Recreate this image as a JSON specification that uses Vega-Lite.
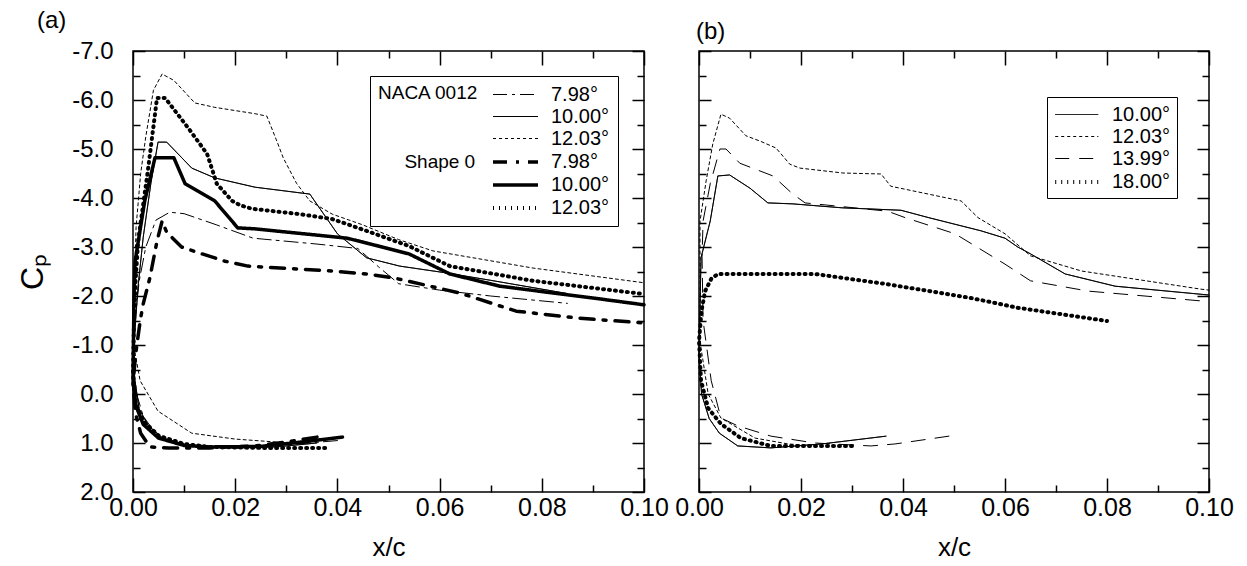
{
"$schema": "https://vega.github.io/schema/vega-lite/v6.json",
"background": "white",
"padding": {"left": 15, "top": 8, "right": 5, "bottom": 5},
"config": {
  "font": "Liberation Sans",
  "view": {"stroke": "black", "strokeWidth": 1.5},
  "axis": {"grid": false, "domain": false, "labelFont": "Liberation Sans", "labelFontSize": 24, "labelColor": "black", "titleColor": "black", "titleFont": "Liberation Sans", "titleFontWeight": "normal", "tickColor": "black", "tickWidth": 1.5, "tickSize": 0, "labelFlush": false, "labelOverlap": false},
  "legend": {"labelFont": "Liberation Sans", "titleFont": "Liberation Sans", "labelColor": "black", "titleColor": "black"},
  "title": {"font": "Liberation Sans", "fontWeight": "normal", "color": "black"}
},
"datasets": {
"a": [
{"s":"N|7.98°","i":0,"x":0.040,"y":0.95},{"s":"N|7.98°","i":1,"x":0.030,"y":1.04},{"s":"N|7.98°","i":2,"x":0.020,"y":1.08},{"s":"N|7.98°","i":3,"x":0.012,"y":1.06},{"s":"N|7.98°","i":4,"x":0.007,"y":0.95},{"s":"N|7.98°","i":5,"x":0.004,"y":0.75},{"s":"N|7.98°","i":6,"x":0.002,"y":0.45},{"s":"N|7.98°","i":7,"x":0.0007,"y":0.0},{"s":"N|7.98°","i":8,"x":0.0001,"y":-0.6},{"s":"N|7.98°","i":9,"x":0.0004,"y":-1.5},{"s":"N|7.98°","i":10,"x":0.0012,"y":-2.3},{"s":"N|7.98°","i":11,"x":0.0025,"y":-3.0},{"s":"N|7.98°","i":12,"x":0.0045,"y":-3.55},{"s":"N|7.98°","i":13,"x":0.0072,"y":-3.71},{"s":"N|7.98°","i":14,"x":0.010,"y":-3.68},{"s":"N|7.98°","i":15,"x":0.0164,"y":-3.45},{"s":"N|7.98°","i":16,"x":0.0235,"y":-3.18},{"s":"N|7.98°","i":17,"x":0.036,"y":-3.06},{"s":"N|7.98°","i":18,"x":0.044,"y":-2.97},{"s":"N|7.98°","i":19,"x":0.048,"y":-2.6},{"s":"N|7.98°","i":20,"x":0.052,"y":-2.25},{"s":"N|7.98°","i":21,"x":0.060,"y":-2.12},{"s":"N|7.98°","i":22,"x":0.070,"y":-2.0},{"s":"N|7.98°","i":23,"x":0.085,"y":-1.85},
{"s":"N|10.00°","i":0,"x":0.036,"y":1.0},{"s":"N|10.00°","i":1,"x":0.028,"y":1.08},{"s":"N|10.00°","i":2,"x":0.018,"y":1.1},{"s":"N|10.00°","i":3,"x":0.010,"y":1.06},{"s":"N|10.00°","i":4,"x":0.006,"y":0.92},{"s":"N|10.00°","i":5,"x":0.003,"y":0.65},{"s":"N|10.00°","i":6,"x":0.0012,"y":0.3},{"s":"N|10.00°","i":7,"x":0.0002,"y":-0.4},{"s":"N|10.00°","i":8,"x":0.0003,"y":-1.2},{"s":"N|10.00°","i":9,"x":0.0010,"y":-2.2},{"s":"N|10.00°","i":10,"x":0.0020,"y":-3.2},{"s":"N|10.00°","i":11,"x":0.0035,"y":-4.3},{"s":"N|10.00°","i":12,"x":0.0049,"y":-5.14},{"s":"N|10.00°","i":13,"x":0.0066,"y":-5.14},{"s":"N|10.00°","i":14,"x":0.0115,"y":-4.61},{"s":"N|10.00°","i":15,"x":0.016,"y":-4.41},{"s":"N|10.00°","i":16,"x":0.0239,"y":-4.22},{"s":"N|10.00°","i":17,"x":0.0346,"y":-4.08},{"s":"N|10.00°","i":18,"x":0.040,"y":-3.27},{"s":"N|10.00°","i":19,"x":0.0457,"y":-2.78},{"s":"N|10.00°","i":20,"x":0.0522,"y":-2.61},{"s":"N|10.00°","i":21,"x":0.0614,"y":-2.47},{"s":"N|10.00°","i":22,"x":0.070,"y":-2.32},{"s":"N|10.00°","i":23,"x":0.085,"y":-2.05},
{"s":"N|12.03°","i":0,"x":0.028,"y":0.98},{"s":"N|12.03°","i":1,"x":0.020,"y":0.92},{"s":"N|12.03°","i":2,"x":0.0115,"y":0.80},{"s":"N|12.03°","i":3,"x":0.0049,"y":0.35},{"s":"N|12.03°","i":4,"x":0.0014,"y":-0.27},{"s":"N|12.03°","i":5,"x":0.0001,"y":-1.0},{"s":"N|12.03°","i":6,"x":0.0002,"y":-2.0},{"s":"N|12.03°","i":7,"x":0.0006,"y":-3.4},{"s":"N|12.03°","i":8,"x":0.0015,"y":-4.5},{"s":"N|12.03°","i":9,"x":0.0025,"y":-5.25},{"s":"N|12.03°","i":10,"x":0.004,"y":-6.2},{"s":"N|12.03°","i":11,"x":0.0057,"y":-6.53},{"s":"N|12.03°","i":12,"x":0.008,"y":-6.4},{"s":"N|12.03°","i":13,"x":0.0121,"y":-5.94},{"s":"N|12.03°","i":14,"x":0.016,"y":-5.85},{"s":"N|12.03°","i":15,"x":0.0239,"y":-5.72},{"s":"N|12.03°","i":16,"x":0.0262,"y":-5.67},{"s":"N|12.03°","i":17,"x":0.028,"y":-5.2},{"s":"N|12.03°","i":18,"x":0.0294,"y":-4.82},{"s":"N|12.03°","i":19,"x":0.032,"y":-4.3},{"s":"N|12.03°","i":20,"x":0.0346,"y":-3.94},{"s":"N|12.03°","i":21,"x":0.039,"y":-3.67},{"s":"N|12.03°","i":22,"x":0.045,"y":-3.45},{"s":"N|12.03°","i":23,"x":0.052,"y":-3.15},{"s":"N|12.03°","i":24,"x":0.0587,"y":-2.92},{"s":"N|12.03°","i":25,"x":0.0783,"y":-2.57},{"s":"N|12.03°","i":26,"x":0.100,"y":-2.27},
{"s":"S|7.98°","i":0,"x":0.036,"y":0.88},{"s":"S|7.98°","i":1,"x":0.030,"y":0.98},{"s":"S|7.98°","i":2,"x":0.024,"y":1.06},{"s":"S|7.98°","i":3,"x":0.015,"y":1.1},{"s":"S|7.98°","i":4,"x":0.007,"y":1.1},{"s":"S|7.98°","i":5,"x":0.0033,"y":1.08},{"s":"S|7.98°","i":6,"x":0.0015,"y":0.8},{"s":"S|7.98°","i":7,"x":0.0005,"y":0.4},{"s":"S|7.98°","i":8,"x":0.0,"y":-0.2},{"s":"S|7.98°","i":9,"x":0.0005,"y":-0.8},{"s":"S|7.98°","i":10,"x":0.0014,"y":-1.49},{"s":"S|7.98°","i":11,"x":0.002,"y":-1.84},{"s":"S|7.98°","i":12,"x":0.0033,"y":-2.37},{"s":"S|7.98°","i":13,"x":0.0047,"y":-3.12},{"s":"S|7.98°","i":14,"x":0.0057,"y":-3.53},{"s":"S|7.98°","i":15,"x":0.0066,"y":-3.3},{"s":"S|7.98°","i":16,"x":0.0095,"y":-3.0},{"s":"S|7.98°","i":17,"x":0.0135,"y":-2.86},{"s":"S|7.98°","i":18,"x":0.018,"y":-2.71},{"s":"S|7.98°","i":19,"x":0.0225,"y":-2.61},{"s":"S|7.98°","i":20,"x":0.039,"y":-2.51},{"s":"S|7.98°","i":21,"x":0.0457,"y":-2.45},{"s":"S|7.98°","i":22,"x":0.051,"y":-2.37},{"s":"S|7.98°","i":23,"x":0.064,"y":-2.06},{"s":"S|7.98°","i":24,"x":0.075,"y":-1.69},{"s":"S|7.98°","i":25,"x":0.087,"y":-1.55},{"s":"S|7.98°","i":26,"x":0.100,"y":-1.45},
{"s":"S|10.00°","i":0,"x":0.041,"y":0.88},{"s":"S|10.00°","i":1,"x":0.033,"y":0.98},{"s":"S|10.00°","i":2,"x":0.025,"y":1.07},{"s":"S|10.00°","i":3,"x":0.015,"y":1.08},{"s":"S|10.00°","i":4,"x":0.010,"y":1.05},{"s":"S|10.00°","i":5,"x":0.005,"y":0.9},{"s":"S|10.00°","i":6,"x":0.002,"y":0.62},{"s":"S|10.00°","i":7,"x":0.0006,"y":0.25},{"s":"S|10.00°","i":8,"x":0.0,"y":-0.3},{"s":"S|10.00°","i":9,"x":0.0001,"y":-1.2},{"s":"S|10.00°","i":10,"x":0.0002,"y":-2.0},{"s":"S|10.00°","i":11,"x":0.0004,"y":-2.7},{"s":"S|10.00°","i":12,"x":0.0023,"y":-3.94},{"s":"S|10.00°","i":13,"x":0.0043,"y":-4.82},{"s":"S|10.00°","i":14,"x":0.008,"y":-4.82},{"s":"S|10.00°","i":15,"x":0.0102,"y":-4.29},{"s":"S|10.00°","i":16,"x":0.016,"y":-3.94},{"s":"S|10.00°","i":17,"x":0.0205,"y":-3.39},{"s":"S|10.00°","i":18,"x":0.0239,"y":-3.37},{"s":"S|10.00°","i":19,"x":0.0419,"y":-3.18},{"s":"S|10.00°","i":20,"x":0.054,"y":-2.86},{"s":"S|10.00°","i":21,"x":0.062,"y":-2.45},{"s":"S|10.00°","i":22,"x":0.0718,"y":-2.2},{"s":"S|10.00°","i":23,"x":0.0914,"y":-1.94},{"s":"S|10.00°","i":24,"x":0.100,"y":-1.82},
{"s":"S|12.03°","i":0,"x":0.0376,"y":1.1},{"s":"S|12.03°","i":1,"x":0.025,"y":1.1},{"s":"S|12.03°","i":2,"x":0.015,"y":1.08},{"s":"S|12.03°","i":3,"x":0.010,"y":1.02},{"s":"S|12.03°","i":4,"x":0.005,"y":0.85},{"s":"S|12.03°","i":5,"x":0.002,"y":0.55},{"s":"S|12.03°","i":6,"x":0.0005,"y":0.2},{"s":"S|12.03°","i":7,"x":0.0,"y":-0.4},{"s":"S|12.03°","i":8,"x":0.0002,"y":-1.5},{"s":"S|12.03°","i":9,"x":0.0005,"y":-2.3},{"s":"S|12.03°","i":10,"x":0.001,"y":-3.12},{"s":"S|12.03°","i":11,"x":0.0029,"y":-4.55},{"s":"S|12.03°","i":12,"x":0.0047,"y":-6.04},{"s":"S|12.03°","i":13,"x":0.0063,"y":-6.04},{"s":"S|12.03°","i":14,"x":0.0108,"y":-5.43},{"s":"S|12.03°","i":15,"x":0.0145,"y":-4.9},{"s":"S|12.03°","i":16,"x":0.0164,"y":-4.29},{"s":"S|12.03°","i":17,"x":0.0194,"y":-3.94},{"s":"S|12.03°","i":18,"x":0.021,"y":-3.85},{"s":"S|12.03°","i":19,"x":0.0233,"y":-3.78},{"s":"S|12.03°","i":20,"x":0.0327,"y":-3.67},{"s":"S|12.03°","i":21,"x":0.039,"y":-3.57},{"s":"S|12.03°","i":22,"x":0.0457,"y":-3.33},{"s":"S|12.03°","i":23,"x":0.054,"y":-3.02},{"s":"S|12.03°","i":24,"x":0.062,"y":-2.61},{"s":"S|12.03°","i":25,"x":0.0783,"y":-2.31},{"s":"S|12.03°","i":26,"x":0.100,"y":-2.04}
],
"b": [
{"s":"10.00°","i":0,"x":0.0367,"y":0.86},{"s":"10.00°","i":1,"x":0.024,"y":1.02},{"s":"10.00°","i":2,"x":0.0141,"y":1.1},{"s":"10.00°","i":3,"x":0.0076,"y":1.06},{"s":"10.00°","i":4,"x":0.004,"y":0.8},{"s":"10.00°","i":5,"x":0.002,"y":0.5},{"s":"10.00°","i":6,"x":0.0005,"y":0.0},{"s":"10.00°","i":7,"x":0.0,"y":-0.8},{"s":"10.00°","i":8,"x":0.0002,"y":-1.8},{"s":"10.00°","i":9,"x":0.0004,"y":-2.78},{"s":"10.00°","i":10,"x":0.0022,"y":-3.53},{"s":"10.00°","i":11,"x":0.0037,"y":-4.45},{"s":"10.00°","i":12,"x":0.006,"y":-4.47},{"s":"10.00°","i":13,"x":0.010,"y":-4.2},{"s":"10.00°","i":14,"x":0.0135,"y":-3.9},{"s":"10.00°","i":15,"x":0.0184,"y":-3.88},{"s":"10.00°","i":16,"x":0.028,"y":-3.8},{"s":"10.00°","i":17,"x":0.0396,"y":-3.75},{"s":"10.00°","i":18,"x":0.045,"y":-3.6},{"s":"10.00°","i":19,"x":0.0553,"y":-3.33},{"s":"10.00°","i":20,"x":0.060,"y":-3.18},{"s":"10.00°","i":21,"x":0.0625,"y":-3.0},{"s":"10.00°","i":22,"x":0.065,"y":-2.86},{"s":"10.00°","i":23,"x":0.0718,"y":-2.45},{"s":"10.00°","i":24,"x":0.0816,"y":-2.2},{"s":"10.00°","i":25,"x":0.100,"y":-2.02},
{"s":"12.03°","i":0,"x":0.022,"y":1.05},{"s":"12.03°","i":1,"x":0.0175,"y":1.02},{"s":"12.03°","i":2,"x":0.011,"y":0.9},{"s":"12.03°","i":3,"x":0.0043,"y":0.49},{"s":"12.03°","i":4,"x":0.0018,"y":0.0},{"s":"12.03°","i":5,"x":0.0003,"y":-1.0},{"s":"12.03°","i":6,"x":0.0002,"y":-2.5},{"s":"12.03°","i":7,"x":0.0002,"y":-3.53},{"s":"12.03°","i":8,"x":0.0014,"y":-4.35},{"s":"12.03°","i":9,"x":0.0027,"y":-5.1},{"s":"12.03°","i":10,"x":0.0043,"y":-5.71},{"s":"12.03°","i":11,"x":0.006,"y":-5.63},{"s":"12.03°","i":12,"x":0.0092,"y":-5.27},{"s":"12.03°","i":13,"x":0.012,"y":-5.16},{"s":"12.03°","i":14,"x":0.0151,"y":-5.02},{"s":"12.03°","i":15,"x":0.0178,"y":-4.69},{"s":"12.03°","i":16,"x":0.0198,"y":-4.61},{"s":"12.03°","i":17,"x":0.0282,"y":-4.51},{"s":"12.03°","i":18,"x":0.0357,"y":-4.49},{"s":"12.03°","i":19,"x":0.0376,"y":-4.24},{"s":"12.03°","i":20,"x":0.0514,"y":-3.94},{"s":"12.03°","i":21,"x":0.0547,"y":-3.6},{"s":"12.03°","i":22,"x":0.060,"y":-3.27},{"s":"12.03°","i":23,"x":0.065,"y":-2.82},{"s":"12.03°","i":24,"x":0.075,"y":-2.51},{"s":"12.03°","i":25,"x":0.0984,"y":-2.14},{"s":"12.03°","i":26,"x":0.100,"y":-2.12},
{"s":"13.99°","i":0,"x":0.049,"y":0.86},{"s":"13.99°","i":1,"x":0.0384,"y":1.02},{"s":"13.99°","i":2,"x":0.0337,"y":1.06},{"s":"13.99°","i":3,"x":0.0227,"y":1.0},{"s":"13.99°","i":4,"x":0.0141,"y":0.86},{"s":"13.99°","i":5,"x":0.0076,"y":0.65},{"s":"13.99°","i":6,"x":0.0043,"y":0.49},{"s":"13.99°","i":7,"x":0.0024,"y":-0.27},{"s":"13.99°","i":8,"x":0.0008,"y":-1.5},{"s":"13.99°","i":9,"x":0.0006,"y":-2.8},{"s":"13.99°","i":10,"x":0.0008,"y":-3.53},{"s":"13.99°","i":11,"x":0.0022,"y":-4.29},{"s":"13.99°","i":12,"x":0.0041,"y":-5.0},{"s":"13.99°","i":13,"x":0.0053,"y":-5.0},{"s":"13.99°","i":14,"x":0.008,"y":-4.71},{"s":"13.99°","i":15,"x":0.0145,"y":-4.45},{"s":"13.99°","i":16,"x":0.0184,"y":-4.08},{"s":"13.99°","i":17,"x":0.0208,"y":-3.9},{"s":"13.99°","i":18,"x":0.037,"y":-3.73},{"s":"13.99°","i":19,"x":0.0404,"y":-3.6},{"s":"13.99°","i":20,"x":0.0502,"y":-3.27},{"s":"13.99°","i":21,"x":0.060,"y":-2.65},{"s":"13.99°","i":22,"x":0.065,"y":-2.31},{"s":"13.99°","i":23,"x":0.0763,"y":-2.1},{"s":"13.99°","i":24,"x":0.0984,"y":-1.9},{"s":"13.99°","i":25,"x":0.100,"y":-1.88},
{"s":"18.00°","i":0,"x":0.030,"y":1.06},{"s":"18.00°","i":1,"x":0.0141,"y":1.06},{"s":"18.00°","i":2,"x":0.0082,"y":0.9},{"s":"18.00°","i":3,"x":0.0043,"y":0.61},{"s":"18.00°","i":4,"x":0.0018,"y":0.29},{"s":"18.00°","i":5,"x":0.0004,"y":-0.27},{"s":"18.00°","i":6,"x":0.0,"y":-1.08},{"s":"18.00°","i":7,"x":0.0005,"y":-1.7},{"s":"18.00°","i":8,"x":0.0012,"y":-2.1},{"s":"18.00°","i":9,"x":0.0024,"y":-2.35},{"s":"18.00°","i":10,"x":0.0037,"y":-2.45},{"s":"18.00°","i":11,"x":0.0227,"y":-2.45},{"s":"18.00°","i":12,"x":0.037,"y":-2.24},{"s":"18.00°","i":13,"x":0.0533,"y":-1.96},{"s":"18.00°","i":14,"x":0.0625,"y":-1.76},{"s":"18.00°","i":15,"x":0.080,"y":-1.49}
]
},
"spacing": 3,
"resolve": {"scale": {"strokeDash": "independent", "strokeWidth": "independent"}},
"hconcat": [
{
  "width": 511, "height": 441,
  "data": {"name": "a"},
  "title": {"text": "(a)", "anchor": "start", "frame": "group", "dx": -96, "offset": 6, "fontSize": 24},
  "layer": [
    {
      "mark": {"type": "line", "color": "black", "strokeCap": "round", "strokeJoin": "round"},
      "encoding": {
        "x": {"field": "x", "type": "quantitative", "scale": {"domain": [0, 0.1], "nice": false, "zero": false},
              "axis": {"orient": "bottom", "values": [0,0.01,0.02,0.03,0.04,0.05,0.06,0.07,0.08,0.09,0.1], "labelExpr": "round(datum.value*100)%2==0 ? format(datum.value,'.2f') : ''", "labelFontSize": 25, "labelPadding": 3, "title": "x/c", "titleFontSize": 26, "titlePadding": 14,
                       "encoding": {"ticks": {"y2": {"value": {"signal": "round(datum.value*100)%2==1 ? -7 : -14"}}}}}},
        "y": {"field": "y", "type": "quantitative", "scale": {"domain": [-7, 2], "reverse": true, "nice": false, "zero": false},
              "axis": {"orient": "left", "values": [-7,-6.5,-6,-5.5,-5,-4.5,-4,-3.5,-3,-2.5,-2,-1.5,-1,-0.5,0,0.5,1,1.5,2], "labelExpr": "abs(datum.value%1)<0.01 ? replace(format(datum.value,'.1f'),'−','-') : ''", "labelPadding": 20, "title": "Cₚ", "titleFontSize": 32, "titlePadding": 22,
                       "encoding": {"ticks": {"x2": {"value": {"signal": "abs(datum.value%1)>0.01 ? 7 : 12"}}}}}},
        "strokeDash": {"field": "s", "type": "nominal",
              "scale": {"domain": ["N|7.98°","N|10.00°","N|12.03°","S|7.98°","S|10.00°","S|12.03°"], "range": [[14,5,3,5],[1,0],[3,3],[14,9,3,9],[1,0],[1,5]]},
              "legend": {"orient": "none", "legendX": 237, "legendY": 25, "title": ["NACA 0012", "\u200b\u00a0\u00a0\u00a0\u00a0\u00a0Shape 0"], "titleOrient": "left", "titleAnchor": "start", "titleFontSize": 19, "titleFontWeight": "normal", "titleLineHeight": 68.5, "titlePadding": 12, "labelFontSize": 20, "labelExpr": "split(datum.label,'|')[1]", "symbolType": "M-1,0H3.5", "symbolSize": 400, "symbolStrokeColor": "black", "strokeColor": "black", "fillColor": "white", "padding": 8, "rowPadding": 1, "labelOffset": 36}},
        "strokeWidth": {"field": "s", "type": "nominal",
              "scale": {"type": "ordinal", "domain": ["N|7.98°","N|10.00°","N|12.03°","S|7.98°","S|10.00°","S|12.03°"], "range": [1,1,1,3.5,3.5,4]},
              "legend": {"orient": "none", "legendX": 237, "legendY": 25, "title": ["NACA 0012", "\u200b\u00a0\u00a0\u00a0\u00a0\u00a0Shape 0"], "titleOrient": "left", "titleAnchor": "start", "titleFontSize": 19, "titleFontWeight": "normal", "titleLineHeight": 68.5, "titlePadding": 12, "labelFontSize": 20, "labelExpr": "split(datum.label,'|')[1]", "symbolType": "M-1,0H3.5", "symbolSize": 400, "symbolStrokeColor": "black", "strokeColor": "black", "fillColor": "white", "padding": 8, "rowPadding": 1, "labelOffset": 36}},
        "order": {"field": "i", "type": "quantitative"}
      }
    },
    {
      "mark": {"type": "point", "opacity": 0},
      "encoding": {
        "x": {"field": "x", "type": "quantitative", "scale": {"domain": [0, 0.1], "nice": false, "zero": false},
              "axis": {"orient": "top", "values": [0,0.01,0.02,0.03,0.04,0.05,0.06,0.07,0.08,0.09,0.1], "labels": false, "title": null,
                       "encoding": {"ticks": {"y2": {"value": {"signal": "round(datum.value*100)%2==1 ? 7 : 14"}}}}}},
        "y": {"field": "y", "type": "quantitative", "scale": {"domain": [-7, 2], "reverse": true, "nice": false, "zero": false},
              "axis": {"orient": "right", "values": [-7,-6.5,-6,-5.5,-5,-4.5,-4,-3.5,-3,-2.5,-2,-1.5,-1,-0.5,0,0.5,1,1.5,2], "labels": false, "title": null,
                       "encoding": {"ticks": {"x2": {"value": {"signal": "abs(datum.value%1)>0.01 ? -7 : -12"}}}}}}
      }
    }
  ],
  "resolve": {"axis": {"x": "independent", "y": "independent"}}
},
{
  "width": 510, "height": 441,
  "data": {"name": "b"},
  "title": {"text": "(b)", "anchor": "start", "frame": "group", "dx": -3, "offset": 6, "fontSize": 24},
  "layer": [
    {
      "mark": {"type": "line", "color": "black", "strokeCap": "round", "strokeJoin": "round"},
      "encoding": {
        "x": {"field": "x", "type": "quantitative", "scale": {"domain": [0, 0.1], "nice": false, "zero": false},
              "axis": {"orient": "bottom", "values": [0,0.01,0.02,0.03,0.04,0.05,0.06,0.07,0.08,0.09,0.1], "labelExpr": "round(datum.value*100)%2==0 ? format(datum.value,'.2f') : ''", "labelFontSize": 25, "labelPadding": 3, "title": "x/c", "titleFontSize": 26, "titlePadding": 14,
                       "encoding": {"ticks": {"y2": {"value": {"signal": "round(datum.value*100)%2==1 ? -7 : -14"}}}}}},
        "y": {"field": "y", "type": "quantitative", "scale": {"domain": [-7, 2], "reverse": true, "nice": false, "zero": false},
              "axis": {"orient": "left", "values": [-7,-6.5,-6,-5.5,-5,-4.5,-4,-3.5,-3,-2.5,-2,-1.5,-1,-0.5,0,0.5,1,1.5,2], "labels": false, "title": null,
                       "encoding": {"ticks": {"x2": {"value": {"signal": "abs(datum.value%1)>0.01 ? 7 : 12"}}}}}},
        "strokeDash": {"field": "s", "type": "nominal",
              "scale": {"domain": ["10.00°","12.03°","13.99°","18.00°"], "range": [[1,0],[3,3],[14,10],[1,5]]},
              "legend": {"orient": "none", "legendX": 348, "legendY": 46, "title": null, "labelFontSize": 20, "symbolType": "M-1,0H3", "symbolSize": 465, "symbolStrokeColor": "black", "strokeColor": "black", "fillColor": "white", "padding": 6, "rowPadding": 0, "labelOffset": 33}},
        "strokeWidth": {"field": "s", "type": "nominal",
              "scale": {"type": "ordinal", "domain": ["10.00°","12.03°","13.99°","18.00°"], "range": [1,1,1,4]},
              "legend": {"orient": "none", "legendX": 348, "legendY": 46, "title": null, "labelFontSize": 20, "symbolType": "M-1,0H3", "symbolSize": 465, "symbolStrokeColor": "black", "strokeColor": "black", "fillColor": "white", "padding": 6, "rowPadding": 0, "labelOffset": 33}},
        "order": {"field": "i", "type": "quantitative"}
      }
    },
    {
      "mark": {"type": "point", "opacity": 0},
      "encoding": {
        "x": {"field": "x", "type": "quantitative", "scale": {"domain": [0, 0.1], "nice": false, "zero": false},
              "axis": {"orient": "top", "values": [0,0.01,0.02,0.03,0.04,0.05,0.06,0.07,0.08,0.09,0.1], "labels": false, "title": null,
                       "encoding": {"ticks": {"y2": {"value": {"signal": "round(datum.value*100)%2==1 ? 7 : 14"}}}}}},
        "y": {"field": "y", "type": "quantitative", "scale": {"domain": [-7, 2], "reverse": true, "nice": false, "zero": false},
              "axis": {"orient": "right", "values": [-7,-6.5,-6,-5.5,-5,-4.5,-4,-3.5,-3,-2.5,-2,-1.5,-1,-0.5,0,0.5,1,1.5,2], "labels": false, "title": null,
                       "encoding": {"ticks": {"x2": {"value": {"signal": "abs(datum.value%1)>0.01 ? -7 : -12"}}}}}}
      }
    }
  ],
  "resolve": {"axis": {"x": "independent", "y": "independent"}}
}
]
}
